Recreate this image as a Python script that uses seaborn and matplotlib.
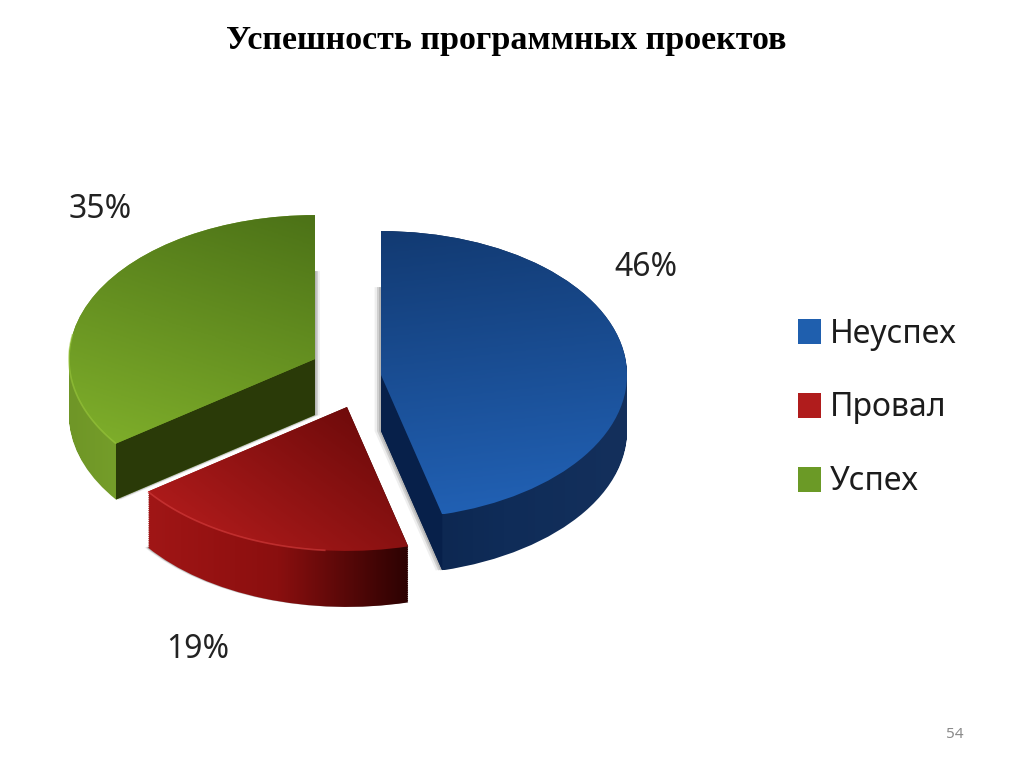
import numpy as np
import seaborn as sns
import matplotlib.pyplot as plt
from matplotlib.patches import Wedge, Polygon, Patch
from matplotlib.path import Path

# Data
labels = ['Неуспех', 'Провал', 'Успех']
values = [46, 19, 35]
title = 'Успешность программных проектов'
page_number = '54'

# Colours of each slice: top face gradient, wall gradient (left to right), cut face
legend_colors = ['#1f5fae', '#b01c1c', '#6b9a26']
top_colors = [['#123a72', '#2263b8'], ['#640808', '#bb1e1e'], ['#4c7217', '#80b02b']]
wall_colors = [['#0b244c', '#0f2c58', '#14305c'],
               ['#a01616', '#961212', '#8a0f0f', '#5a0808', '#2c0202'],
               ['#6f9627', '#7ea92e', '#6f9627']]
cut_colors = ['#07204a', '#300303', '#2a3a08']
edge_colors = ['#2a6cc0', '#d84040', '#9ac83c']

# Layout, pixels of the 1024x767 image
SQUASH = 0.585
RADIUS = 246
centers_px = [(381, 375), (347, 407), (315, 359)]
DEPTH = 56
shadow_dx = [-4, -2, 3]
# Gradient direction for the top face (x weight, y weight)
top_dirs = [(0.1, -1.0), (-0.8, -0.6), (-0.35, -1.0)]
# Which end of the slice shows a cut face, and the part of the arc with a light rim
cut_side = [0, None, 1]
rim_span = [None, (-144, -95), (170, 216)]

sns.set_theme(style='white')
plt.rcParams['font.family'] = ['Noto Sans', 'DejaVu Sans']

fig = plt.figure(figsize=(10.24, 7.67), dpi=100, facecolor='white')
ax = fig.add_axes([0, 0, 1, 1])


def to_y(py):
    return (767 - py) / SQUASH


# pie gives us the angles of the slices, the pieces are then moved apart
base, _ = ax.pie(values, radius=RADIUS, startangle=90, counterclock=False, colors=legend_colors)
angles = [(w.theta1, w.theta2) for w in base]
for w in base:
    w.set_visible(False)


def gradient(x0, x1, y0, y1, wx, wy, colors, clip, zorder):
    xx, yy = np.meshgrid(np.linspace(0, 1, 200), np.linspace(0, 1, 200))
    g = wx * xx + wy * yy
    g = (g - g.min()) / (g.max() - g.min())
    cmap = sns.blend_palette(colors, as_cmap=True)
    im = ax.imshow(g, extent=(x0, x1, y0, y1), origin='lower', cmap=cmap,
                   aspect='auto', zorder=zorder)
    im.set_clip_path(clip, ax.transData)


for i, (th1, th2) in enumerate(angles):
    cx, cy_px = centers_px[i]
    cy = to_y(cy_px)
    dy = DEPTH / SQUASH

    # soft shadow
    for off, alpha in [(1.6, 0.12), (1.0, 0.25), (0.5, 0.3)]:
        ax.add_patch(Wedge((cx + shadow_dx[i] * off, cy - dy), RADIUS, th1, th2,
                           fc='#777777', ec='none', alpha=alpha, zorder=1))

    # wall: union of the top wedge moved down
    stack = [Wedge((cx, cy - dy * k / 30), RADIUS, th1, th2).get_path() for k in range(31)]
    wall = Path.make_compound_path(*stack)
    ext = wall.get_extents()
    gradient(ext.x0, ext.x1, ext.y0, ext.y1, 1, 0, wall_colors[i], wall, 2)

    # cut face that looks at us
    if cut_side[i] is not None:
        cut_angle = (th1, th2)[cut_side[i]]
        ex = cx + RADIUS * np.cos(np.radians(cut_angle))
        ey = cy + RADIUS * np.sin(np.radians(cut_angle))
        ax.add_patch(Polygon([(cx, cy), (ex, ey), (ex, ey - dy), (cx, cy - dy)],
                             fc=cut_colors[i], ec='none', zorder=3))

    # top face
    top = Wedge((cx, cy), RADIUS, th1, th2).get_path()
    ext = top.get_extents()
    gradient(ext.x0, ext.x1, ext.y0, ext.y1, top_dirs[i][0], top_dirs[i][1], top_colors[i], top, 4)

    # thin light rim on the front of the arc
    if rim_span[i] is not None:
        t = np.radians(np.linspace(rim_span[i][0], rim_span[i][1], 80))
        ax.plot(cx + RADIUS * np.cos(t), cy + RADIUS * np.sin(t), color=edge_colors[i], lw=1.2,
                alpha=0.6, zorder=5, solid_capstyle='butt')

ax.set_xlim(0, 1024)
ax.set_ylim(0, 767 / SQUASH)
ax.set_aspect('auto')
ax.axis('off')

# Percent labels
pct_pos = [(646, 268), (198, 649), (100, 210)]
for v, (px, py) in zip(values, pct_pos):
    ax.text(px, to_y(py), f'{v}%', fontsize=23, color='#222222', ha='center', va='center', zorder=6)

handles = [Patch(fc=c, ec='none') for c in legend_colors]
ax.legend(handles, labels, loc='center left', bbox_to_anchor=(798 / 1024, 1 - 408 / 767),
          frameon=False, fontsize=23, labelcolor='#1c1c1c', handlelength=0.72, handleheight=0.85,
          handletextpad=0.28, labelspacing=1.28, borderpad=0, borderaxespad=0)

fig.text(506 / 1024, 1 - 41 / 767, title, family='Liberation Serif', fontweight='bold',
         fontsize=24.5, color='black', ha='center', va='center')
fig.text(955 / 1024, 1 - 734 / 767, page_number, fontsize=11, color='#8a8a8a',
         ha='center', va='center')

fig.savefig('out.png', dpi=100)
plt.close(fig)
